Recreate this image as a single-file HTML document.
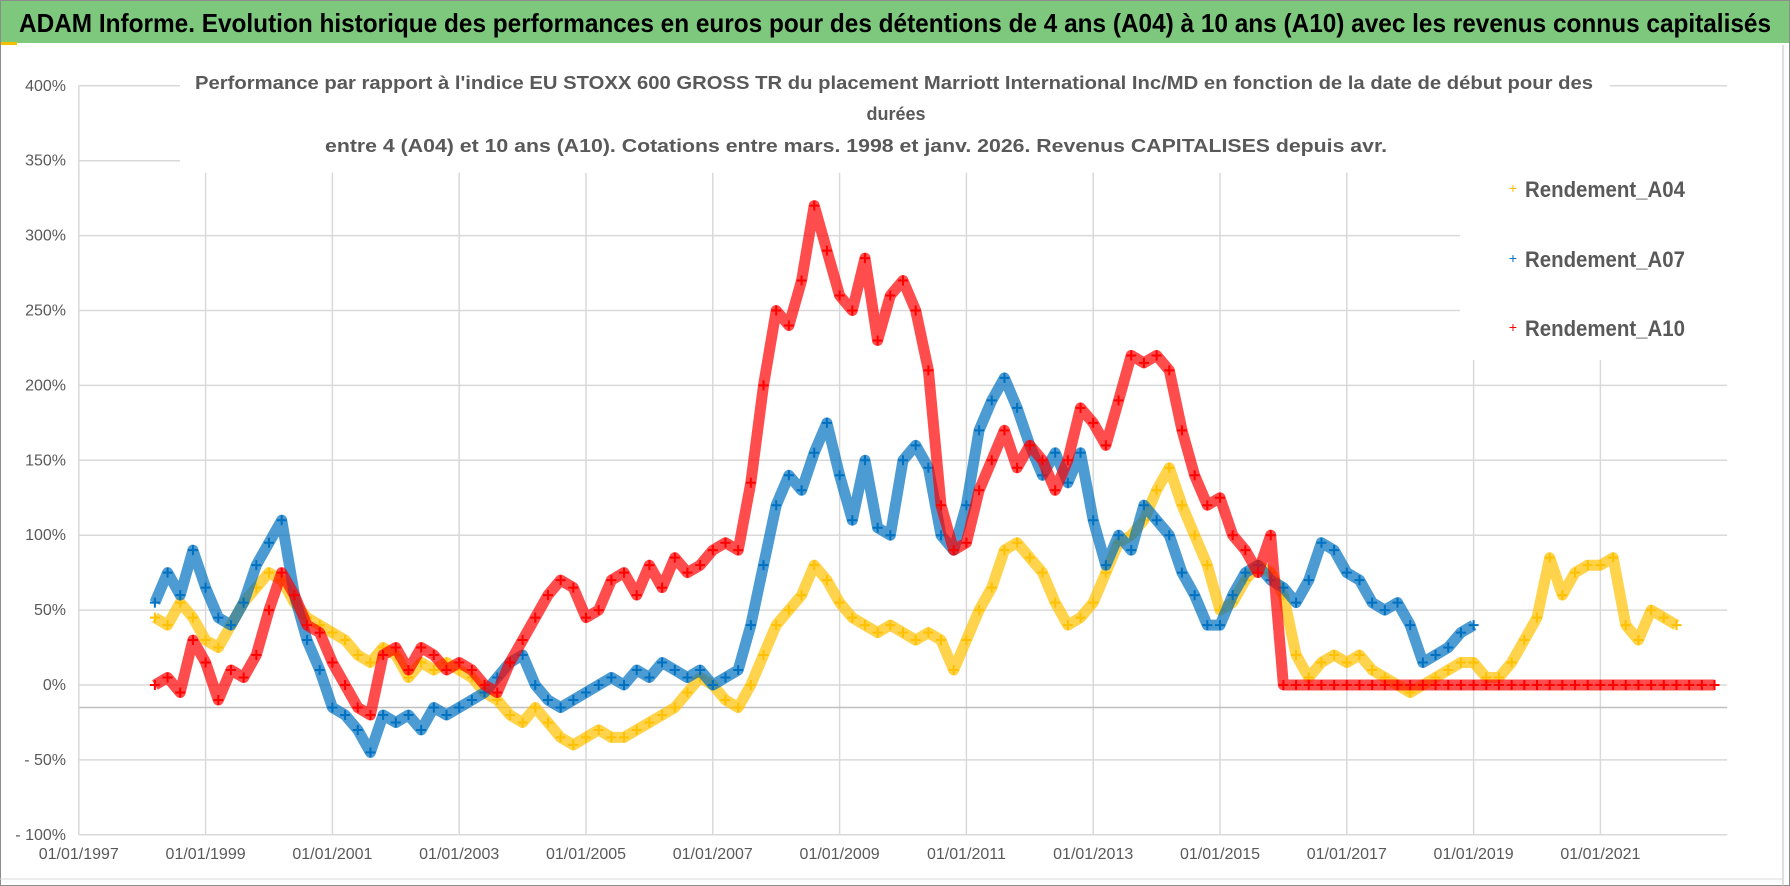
<!DOCTYPE html>
<html><head><meta charset="utf-8"><style>
html,body{margin:0;padding:0;background:#fff;}
svg{display:block;font-family:"Liberation Sans",sans-serif;}
</style></head><body>
<svg id="chart" width="1790" height="886" viewBox="0 0 1790 886">
<rect x="0" y="0" width="1790" height="886" fill="#fff"/>
<rect x="0.5" y="0.5" width="1789" height="885" fill="none" stroke="#8c8c8c"/>
<rect x="1" y="1" width="1788" height="42" fill="#7ec87e"/>
<rect x="1" y="42" width="16" height="3" fill="#f2c200"/>
<text x="895" y="32" text-anchor="middle" font-size="26" font-weight="bold" fill="#000" textLength="1752" lengthAdjust="spacingAndGlyphs">ADAM Informe. Evolution historique des performances en euros pour des détentions de 4 ans (A04) à 10 ans (A10) avec les revenus connus capitalisés</text>
<line x1="1783" y1="45" x2="1783" y2="886" stroke="#bfbfbf"/>
<line x1="0" y1="879" x2="1783" y2="879" stroke="#d9d9d9"/>
<g id="grid"></g>
<g id="series"></g>
<rect x="180" y="62" width="1430" height="100" fill="#fff"/>
<text x="894" y="89" text-anchor="middle" font-size="18" font-weight="bold" fill="#595959" textLength="1398" lengthAdjust="spacingAndGlyphs">Performance par rapport à l'indice EU STOXX 600 GROSS TR  du placement Marriott International Inc/MD en fonction de la date de début pour des</text>
<text x="896" y="120" text-anchor="middle" font-size="18" font-weight="bold" fill="#595959">durées</text>
<text x="856" y="152" text-anchor="middle" font-size="18" font-weight="bold" fill="#595959" textLength="1062" lengthAdjust="spacingAndGlyphs">entre 4 (A04) et 10 ans (A10).  Cotations entre mars. 1998 et janv. 2026. Revenus CAPITALISES depuis avr.</text>
<g id="axes"></g>
<rect x="1460" y="153" width="268" height="207" fill="#fff"/>
<g>
<text x="1513" y="193" text-anchor="middle" font-size="14" fill="#ffc000">+</text>
<text x="1525" y="197" font-size="22" font-weight="bold" fill="#595959" textLength="160" lengthAdjust="spacingAndGlyphs">Rendement_A04</text></g>
<g>
<text x="1513" y="263" text-anchor="middle" font-size="14" fill="#0070c0">+</text>
<text x="1525" y="267" font-size="22" font-weight="bold" fill="#595959" textLength="160" lengthAdjust="spacingAndGlyphs">Rendement_A07</text></g>
<g>
<text x="1513" y="332" text-anchor="middle" font-size="14" fill="#ff0000">+</text>
<text x="1525" y="336" font-size="22" font-weight="bold" fill="#595959" textLength="160" lengthAdjust="spacingAndGlyphs">Rendement_A10</text></g>
</svg>
<script>
const yTicks = [400,350,300,250,200,150,100,50,0,-50,-100];
const yTickLabels = ["400%","350%","300%","250%","200%","150%","100%","50%","0%","- 50%","- 100%"];
const xTickYears = [1997,1999,2001,2003,2005,2007,2009,2011,2013,2015,2017,2019,2021];
const xTickLabels = ["01/01/1997","01/01/1999","01/01/2001","01/01/2003","01/01/2005","01/01/2007","01/01/2009","01/01/2011","01/01/2013","01/01/2015","01/01/2017","01/01/2019","01/01/2021"];
const seriesStartYear = 1998.2;
const seriesStepYears = 0.2;
const a04 = [45,40,55,45,30,25,40,55,65,75,70,55,45,40,35,30,20,15,25,20,5,15,10,15,10,5,-5,-10,-20,-25,-15,-25,-35,-40,-35,-30,-35,-35,-30,-25,-20,-15,-5,5,0,-10,-15,0,20,40,50,60,80,70,55,45,40,35,40,35,30,35,30,10,30,50,65,90,95,85,75,55,40,45,55,75,95,100,110,130,145,120,100,80,50,55,70,80,75,60,20,5,15,20,15,20,10,5,0,-5,0,5,10,15,15,5,5,15,30,45,85,60,75,80,80,85,40,30,50,45,40];
const a07 = [55,75,60,90,65,45,40,55,80,95,110,60,30,10,-15,-20,-30,-45,-20,-25,-20,-30,-15,-20,-15,-10,-5,5,15,20,0,-10,-15,-10,-5,0,5,0,10,5,15,10,5,10,0,5,10,40,80,120,140,130,155,175,140,110,150,105,100,150,160,145,100,90,120,170,190,205,185,160,140,155,135,155,110,80,100,90,120,110,100,75,60,40,40,60,75,80,70,65,55,70,95,90,75,70,55,50,55,40,15,20,25,35,40];
const a10 = [0,5,-5,30,15,-10,10,5,20,50,75,60,40,35,15,0,-15,-20,20,25,10,25,20,10,15,10,0,-5,15,30,45,60,70,65,45,50,70,75,60,80,65,85,75,80,90,95,90,135,200,250,240,270,320,290,260,250,285,230,260,270,250,210,120,90,95,130,150,170,145,160,150,130,150,185,175,160,190,220,215,220,210,170,140,120,125,100,90,75,100,0,0,0,0,0,0,0,0,0,0,0,0,0,0,0,0,0,0,0,0,0,0,0,0,0,0,0,0,0,0,0,0,0,0,0];

const NS = "http://www.w3.org/2000/svg";
const X0 = 78.8, PXY = 63.4, Y0 = 685, PXV = 1.498;
function xScale(yr){ return X0 + (yr - 1997) * PXY; }
function yScale(v){ return Y0 - v * PXV; }
function mk(tag, attrs, parent){ const e = document.createElementNS(NS, tag); for (const k in attrs) e.setAttribute(k, attrs[k]); parent.appendChild(e); return e; }

const grid = document.getElementById('grid');
const axes = document.getElementById('axes');
const xL = xScale(1997), xR = xScale(2023);
yTicks.forEach((v,i) => {
  const l = mk('line', {x1:xL, x2:xR, y1:yScale(v), y2:yScale(v), stroke:'#d9d9d9', 'stroke-width':1.5}, grid);
  
  
  const t = mk('text', {x:66, y:yScale(v)+5, 'text-anchor':'end', 'font-size':16, fill:'#595959'}, axes);
  t.textContent = yTickLabels[i];
  
  
});
xTickYears.forEach((yr,i) => {
  const l = mk('line', {x1:xScale(yr), x2:xScale(yr), y1:yScale(350)+12, y2:yScale(-100), stroke:'#d9d9d9', 'stroke-width':1.5}, grid);
  
  
  const t = mk('text', {x:xScale(yr), y:859, 'text-anchor':'middle', 'font-size':16, fill:'#595959'}, axes);
  t.textContent = xTickLabels[i];
  
  
});
const ax = mk('line', {x1:xL, x2:xR, y1:yScale(-15), y2:yScale(-15), stroke:'#bfbfbf', 'stroke-width':1.5}, grid);


const ay = mk('line', {x1:xL, x2:xL, y1:yScale(400), y2:yScale(-100), stroke:'#d9d9d9', 'stroke-width':1.5}, grid);



const layer = document.getElementById('series');
function drawSeries(vals, color, name){
  const g = mk('g', {}, layer);
  
  
  const pts = vals.map((v,i) => [xScale(seriesStartYear + i*seriesStepYears), yScale(v)]);
  const pl = mk('polyline', {points: pts.map(p => p[0].toFixed(1)+','+p[1].toFixed(1)).join(' '), fill:'none', stroke:color, 'stroke-width':11, 'stroke-linejoin':'round', opacity:0.7}, g);
  
  
  pts.forEach(p => {
    const c = mk('path', {d:`M${p[0]-5},${p[1]}h10M${p[0]},${p[1]-5}v10`, stroke:color, 'stroke-width':2}, g);
    
    
  });
}
drawSeries(a04, '#ffc000', 'series-a04');
drawSeries(a07, '#0070c0', 'series-a07');
drawSeries(a10, '#ff0000', 'series-a10');
</script>
</body></html>
